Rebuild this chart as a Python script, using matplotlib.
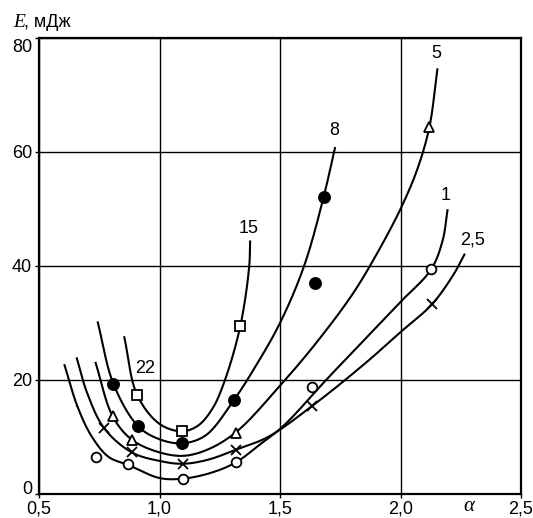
import numpy as np
import matplotlib
matplotlib.use("Agg")
import matplotlib.pyplot as plt
from matplotlib.transforms import ScaledTranslation

plt.rcParams['font.family'] = ['Liberation Sans', 'DejaVu Sans']

# tick labels (comma decimals, as in the original)
x_ticks = [0.5, 1.0, 1.5, 2.0, 2.5]
x_tick_labels = ["0,5", "1,0", "1,5", "2,0", "2,5"]
y_ticks = [0, 20, 40, 60, 80]
y_tick_labels = ["0", "20", "40", "60", "80"]

# measured points (markers) for each curve
circ_x = [0.737, 0.870, 1.099, 1.319, 1.632, 2.127]
circ_y = [6.5, 5.3, 2.7, 5.6, 18.7, 39.4]
cross_x = [0.771, 0.885, 1.096, 1.319, 1.632, 2.131]
cross_y = [11.5, 7.3, 5.3, 7.8, 15.4, 33.3]
tri_x = [0.806, 0.886, 1.319, 2.120]
tri_y = [13.6, 9.5, 10.7, 64.4]
dot_x = [0.809, 0.911, 1.095, 1.309, 1.644, 1.681]
dot_y = [19.3, 11.9, 8.9, 16.5, 37.0, 52.1]
sq_x = [0.907, 1.092, 1.335]
sq_y = [17.4, 11.0, 29.4]

# hand-drawn curves
c1_x = [0.606, 0.66, 0.72, 0.789, 0.870, 1.0, 1.099, 1.22, 1.319, 1.42, 1.513, 1.70, 1.892, 2.0, 2.127, 2.175, 2.195]
c1_y = [22.6, 15.3, 10.0, 6.5, 5.1, 2.8, 2.7, 3.8, 5.6, 8.8, 11.9, 20.4, 28.9, 33.7, 39.4, 44.5, 49.8]
c25_x = [0.657, 0.70, 0.771, 0.885, 1.0, 1.096, 1.20, 1.319, 1.45, 1.632, 1.85, 2.0, 2.131, 2.22, 2.265]
c25_y = [23.8, 17.7, 11.5, 7.3, 5.8, 5.3, 6.0, 7.8, 10.0, 15.4, 22.8, 28.4, 33.3, 38.5, 42.0]
c5_x = [0.735, 0.806, 0.886, 1.0, 1.10, 1.20, 1.319, 1.5, 1.65, 1.80, 1.90, 2.0, 2.07, 2.12, 2.153]
c5_y = [23.0, 13.6, 9.5, 7.3, 6.7, 7.8, 10.9, 19.0, 26.5, 35.0, 42.0, 50.0, 57.0, 64.4, 74.5]
c8_x = [0.744, 0.809, 0.911, 1.0, 1.095, 1.192, 1.309, 1.40, 1.5, 1.60, 1.681, 1.728]
c8_y = [30.1, 19.3, 11.9, 9.6, 8.9, 10.3, 16.5, 22.5, 30.0, 40.0, 52.1, 60.7]
c15_x = [0.854, 0.907, 1.0, 1.092, 1.16, 1.22, 1.27, 1.335, 1.372, 1.376]
c15_y = [27.5, 17.4, 12.3, 11.0, 12.0, 15.0, 19.8, 29.4, 39.8, 44.3]

# curve labels
lab_text = ["5", "8", "15", "1", "2,5", "22"]
lab_x = [2.149, 1.727, 1.369, 2.188, 2.30, 0.939]
lab_y = [77.2, 63.8, 46.5, 52.3, 44.5, 22.0]


def smooth(xs, ys, n=30):
    # centripetal catmull-rom through the traced points (pixel-ish scaling)
    p = np.column_stack([np.array(xs) * 241.0, np.array(ys) * 5.7])
    p = np.vstack([2 * p[0] - p[1], p, 2 * p[-1] - p[-2]])
    out = []
    for i in range(1, len(p) - 2):
        p0, p1, p2, p3 = p[i - 1], p[i], p[i + 1], p[i + 2]
        t0 = 0.0
        t1 = t0 + np.linalg.norm(p1 - p0) ** 0.5
        t2 = t1 + np.linalg.norm(p2 - p1) ** 0.5
        t3 = t2 + np.linalg.norm(p3 - p2) ** 0.5
        t = np.linspace(t1, t2, n)[:, None]
        a1 = (t1 - t) / (t1 - t0) * p0 + (t - t0) / (t1 - t0) * p1
        a2 = (t2 - t) / (t2 - t1) * p1 + (t - t1) / (t2 - t1) * p2
        a3 = (t3 - t) / (t3 - t2) * p2 + (t - t2) / (t3 - t2) * p3
        b1 = (t2 - t) / (t2 - t0) * a1 + (t - t0) / (t2 - t0) * a2
        b2 = (t3 - t) / (t3 - t1) * a2 + (t - t1) / (t3 - t1) * a3
        c = (t2 - t) / (t2 - t1) * b1 + (t - t1) / (t2 - t1) * b2
        out.append(c)
    out = np.vstack(out)
    return out[:, 0] / 241.0, out[:, 1] / 5.7


fig = plt.figure(figsize=(5.33, 5.18), dpi=100)
ax = fig.add_axes([39 / 533, 1 - 494 / 518, (521 - 39) / 533, (494 - 38) / 518])

for cx, cy in [(c1_x, c1_y), (c25_x, c25_y), (c5_x, c5_y), (c8_x, c8_y), (c15_x, c15_y)]:
    sx, sy = smooth(cx, cy)
    ax.plot(sx, sy, color="black", lw=1.5, zorder=3)

mk = dict(ls="none", mec="black", mew=1.3, zorder=4)
ax.plot(circ_x, circ_y, marker="o", ms=7, mfc="white", **mk)
ax.plot(cross_x, cross_y, marker="x", ms=7, color="black", **mk)
ax.plot(tri_x, tri_y, marker="^", ms=7.5, mfc="white", **mk)
ax.plot(dot_x, dot_y, marker="o", ms=8, mfc="black", **mk)
ax.plot(sq_x, sq_y, marker="s", ms=7, mfc="white", **mk)

for t, x, y in zip(lab_text, lab_x, lab_y):
    ax.text(x, y, t, fontsize=13, ha="center", va="center", zorder=5)

ax.set_xlim(0.5, 2.5)
ax.set_ylim(0, 80)
ax.set_xticks(x_ticks)
ax.set_xticklabels(x_tick_labels)
ax.set_yticks(y_ticks)
ax.set_yticklabels(y_tick_labels)
ax.tick_params(direction="out", length=3, width=1, labelsize=13, pad=2, colors="black")
ax.grid(True, color="black", lw=1)
for s in ax.spines.values():
    s.set_linewidth(1.6)

# nudge the corner labels like in the original ("0" up, "80" down)
ylabs = ax.get_yticklabels()
ylabs[0].set_transform(ylabs[0].get_transform() + ScaledTranslation(0, 6 / 100, fig.dpi_scale_trans))
ylabs[-1].set_transform(ylabs[-1].get_transform() + ScaledTranslation(0, -7 / 100, fig.dpi_scale_trans))

# axis captions
fig.text(13 / 533, 1 - 27 / 518, "E", fontsize=14, family="Liberation Serif", style="italic", va="baseline")
fig.text(24 / 533, 1 - 27 / 518, ", мДж", fontsize=13, va="baseline")
ax.text(2.283, -3 / 456, "α", fontsize=15, family="Liberation Serif", style="italic",
        ha="center", va="top", transform=ax.get_xaxis_transform())

plt.savefig("out.png", dpi=100)
